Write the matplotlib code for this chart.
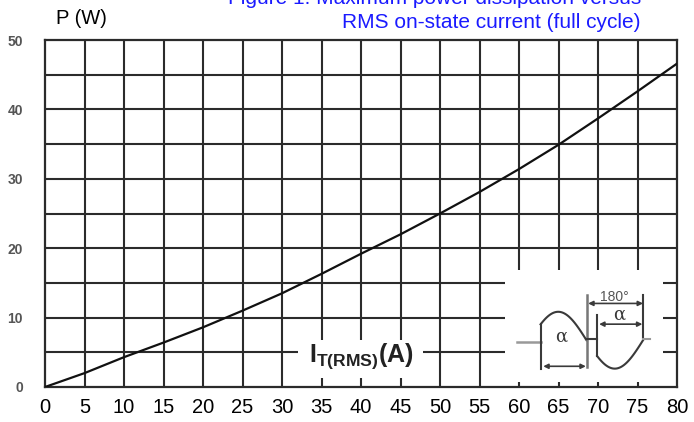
import numpy as np
import matplotlib
matplotlib.use("Agg")
import matplotlib.pyplot as plt
from matplotlib.patches import Rectangle

plt.rcParams['font.family'] = ['Liberation Sans', 'DejaVu Sans']
plt.rcParams['mathtext.fontset'] = 'custom'
plt.rcParams['mathtext.rm'] = 'Liberation Sans'
plt.rcParams['mathtext.bf'] = 'Liberation Sans:bold'

# RMS on-state current (A) and max power dissipation (W)
current = [0, 5, 10, 15, 20, 25, 30, 35, 40, 45, 50, 55, 60, 65, 70, 75, 80]
power = [0, 2.0, 4.3, 6.4, 8.6, 11.0, 13.5, 16.3, 19.2, 22.0, 25.0, 28.1, 31.4, 34.9, 38.7, 42.6, 46.6]

x_ticks = list(range(0, 81, 5))
y_ticks = [0, 10, 20, 30, 40, 50]
grid_x = list(range(5, 80, 5))
grid_y = list(range(5, 50, 5))

W, H = 694, 422
fig = plt.figure(figsize=(W / 100, H / 100), dpi=100)
ax = fig.add_axes([45 / W, 1 - 387 / H, 632 / W, 347 / H])

grid_col = '#2b2b2b'
for gx in grid_x:
    ax.axvline(gx, color=grid_col, lw=1.5, zorder=1)
for gy in grid_y:
    ax.axhline(gy, color=grid_col, lw=1.5, zorder=1)
for s in ax.spines.values():
    s.set_color(grid_col)
    s.set_linewidth(1.6)

ax.plot(current, power, color='#111111', lw=1.6, zorder=3)

ax.set_xlim(0, 80)
ax.set_ylim(0, 50)
ax.set_xticks(x_ticks)
ax.set_yticks(y_ticks)
ax.tick_params(axis='x', length=0, pad=8, labelsize=14.5, labelcolor='black')
ax.tick_params(axis='y', length=0, pad=16, labelsize=10, labelcolor='#555555')
for lb in ax.get_yticklabels():
    lb.set_fontweight('bold')

# white box behind the axis label
ax.add_patch(Rectangle((32.0, 1.3), 15.8, 5.5, facecolor='white', edgecolor='none', zorder=2))
ax.text(40.0, 4.4, r'$\mathbf{I_{T(RMS)}(A)}$', fontsize=18, ha='center', va='center',
        color='#222222', zorder=4)

# inset with the conduction-angle waveform
axi = fig.add_axes([505 / W, 1 - 382 / H, 158 / W, 112 / H])
axi.set_xlim(75, 550)
axi.set_ylim(485, 150)
axi.axis('off')
axi.add_patch(Rectangle((0, 0), 1, 1, transform=axi.transAxes, facecolor='white',
                        edgecolor='none', zorder=0))
ink = '#3a3a3a'
base = 360
amp = 85
t = np.linspace(182, 320, 100)
axi.plot(t, base - amp * np.sin((t - 150) / 170 * np.pi), color=ink, lw=1.5)
t = np.linspace(352, 490, 100)
axi.plot(t, base - amp * np.sin((t - 150) / 170 * np.pi), color=ink, lw=1.5)
axi.plot([112, 182], [365, 365], color='#999999', lw=1.8)
axi.plot([182, 182], [base - amp * np.sin(32 / 170 * np.pi), 445], color=ink, lw=1.5)
axi.plot([322, 322], [225, 440], color='#777777', lw=1.8)
axi.plot([320, 352], [355, 355], color=ink, lw=1.5)
axi.plot([352, 352], [285, base - amp * np.sin(202 / 170 * np.pi)], color=ink, lw=1.5)
axi.plot([490, 490], [225, 355], color=ink, lw=1.5)
axi.plot([490, 510], [355, 355], color='#999999', lw=1.5)
arr = dict(arrowstyle='<|-|>', color=ink, lw=1.2, mutation_scale=7, shrinkA=0, shrinkB=0)
axi.annotate('', xy=(190, 438), xytext=(318, 438), arrowprops=arr)
axi.annotate('', xy=(325, 250), xytext=(490, 250), arrowprops=arr)
axi.annotate('', xy=(358, 312), xytext=(488, 312), arrowprops=arr)
axi.text(243, 350, 'α', family='DejaVu Serif', fontsize=13, color=ink, ha='center', va='center')
axi.text(418, 282, 'α', family='DejaVu Serif', fontsize=13, color=ink, ha='center', va='center')
axi.text(405, 230, '180°', fontsize=10, color='#555555', ha='center', va='center')

fig.text(56 / W, 1 - 19 / H, 'P (W)', fontsize=14.5, ha='left', va='center')
fig.text(641 / W, 1 - 3.5 / H, 'Figure 1: Maximum power dissipation versus', fontsize=15,
         color='#1a1aff', ha='right', va='baseline')
fig.text(641 / W, 1 - 28.5 / H, 'RMS on-state current (full cycle)', fontsize=15,
         color='#1a1aff', ha='right', va='baseline')

fig.savefig('out.png', dpi=100, facecolor='white')
